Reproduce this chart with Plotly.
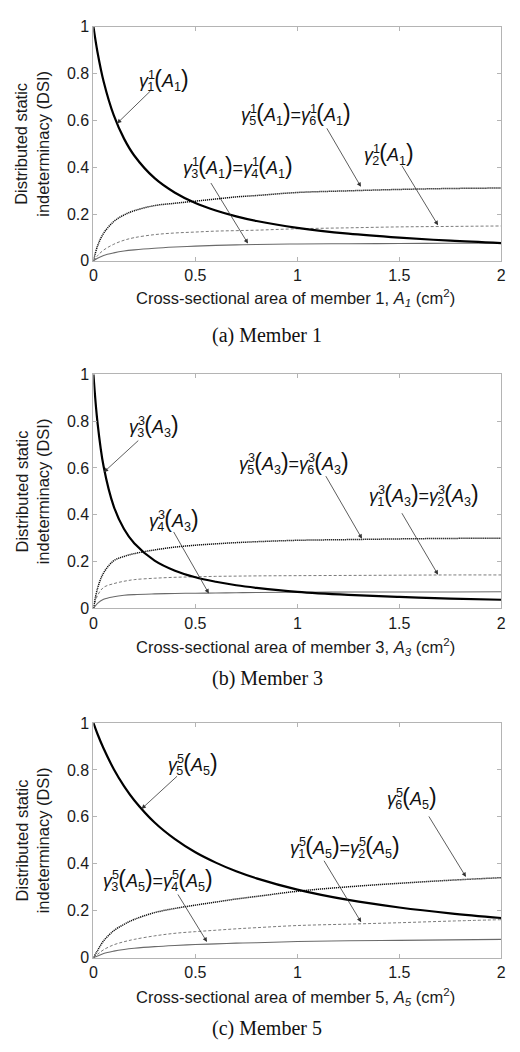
import plotly.graph_objects as go

# ---------------- data ----------------
A_grid = [0, 0.02, 0.05, 0.1, 0.15, 0.2, 0.3, 0.4, 0.5, 0.6, 0.7, 0.8, 1.0, 1.25, 1.5, 1.75, 2.0]

# (a) Member 1
m1_thick = [1.0, 0.891, 0.766, 0.621, 0.522, 0.450, 0.353, 0.291, 0.247, 0.215, 0.190, 0.170, 0.141, 0.116, 0.099, 0.086, 0.076]
m1_dot = [0, 0.063, 0.118, 0.168, 0.196, 0.214, 0.236, 0.246, 0.255, 0.264, 0.273, 0.279, 0.292, 0.299, 0.305, 0.309, 0.311]
m1_dash = [0, 0.022, 0.046, 0.071, 0.088, 0.099, 0.112, 0.119, 0.123, 0.127, 0.129, 0.131, 0.137, 0.141, 0.145, 0.147, 0.149]
m1_thin = [0, 0.011, 0.023, 0.034, 0.042, 0.047, 0.054, 0.059, 0.063, 0.066, 0.068, 0.070, 0.072, 0.073, 0.074, 0.075, 0.075]

# (b) Member 3
m3_thick = [1.0, 0.794, 0.606, 0.435, 0.339, 0.278, 0.204, 0.161, 0.133, 0.114, 0.099, 0.088, 0.071, 0.058, 0.049, 0.042, 0.037]
m3_dot = [0, 0.085, 0.152, 0.204, 0.222, 0.234, 0.250, 0.262, 0.270, 0.276, 0.281, 0.285, 0.291, 0.294, 0.297, 0.299, 0.300]
m3_dash = [0, 0.055, 0.090, 0.106, 0.116, 0.123, 0.129, 0.133, 0.135, 0.137, 0.138, 0.139, 0.140, 0.141, 0.142, 0.143, 0.143]
m3_thin = [0, 0.022, 0.039, 0.050, 0.056, 0.059, 0.062, 0.064, 0.065, 0.066, 0.067, 0.068, 0.069, 0.070, 0.070, 0.070, 0.071]

# (c) Member 5
m5_thick = [1.0, 0.953, 0.891, 0.803, 0.731, 0.671, 0.576, 0.505, 0.449, 0.405, 0.368, 0.338, 0.290, 0.246, 0.214, 0.189, 0.169]
m5_dot = [0, 0.030, 0.072, 0.115, 0.142, 0.163, 0.192, 0.210, 0.224, 0.237, 0.250, 0.261, 0.283, 0.302, 0.317, 0.330, 0.341]
m5_dash = [0, 0.014, 0.034, 0.055, 0.068, 0.078, 0.093, 0.104, 0.111, 0.117, 0.123, 0.128, 0.137, 0.143, 0.149, 0.156, 0.162]
m5_thin = [0, 0.007, 0.018, 0.028, 0.035, 0.040, 0.047, 0.052, 0.056, 0.059, 0.062, 0.064, 0.069, 0.072, 0.074, 0.076, 0.078]

x_ticks = [0, 0.5, 1, 1.5, 2]
x_tick_labels = ["0", "0.5", "1", "1.5", "2"]
y_ticks = [0, 0.2, 0.4, 0.6, 0.8, 1]
y_tick_labels = ["0", "0.2", "0.4", "0.6", "0.8", "1"]

captions = ["(a) Member 1", "(b) Member 3", "(c) Member 5"]
members = ["1", "3", "5"]

PAREN_L = "<span style='font-size:23px'>(</span>"
PAREN_R = "<span style='font-size:23px'>)</span>"


def g(i, m):
    return ("<i>γ</i><sup><span style='letter-spacing:-0.62em'>%s</span></sup>"
            "<sub>%s</sub>%s<i>A</i><sub>%s</sub>%s" % (m, i, PAREN_L, m, PAREN_R))


# labels: (text, x, y, head_x, head_y, ax, ay)
labels = [
    [
        (g("1", "1"), 0.347, 0.773, 0.116, 0.587, 35, -34),
        (g("5", "1") + "=" + g("6", "1"), 0.993, 0.626, 1.312, 0.316, -35, -60),
        (g("2", "1"), 1.451, 0.458, 1.69, 0.152, -37, -61),
        (g("3", "1") + "=" + g("4", "1"), 0.708, 0.399, 0.758, 0.074, -38, -62),
    ],
    [
        (g("3", "3"), 0.299, 0.779, 0.051, 0.582, 36, -33),
        (g("5", "3") + "=" + g("6", "3"), 0.983, 0.619, 1.317, 0.298, -37, -64),
        (g("1", "3") + "=" + g("2", "3"), 1.619, 0.484, 1.69, 0.144, -37, -63),
        (g("4", "3"), 0.395, 0.379, 0.566, 0.064, -36, -63),
    ],
    [
        (g("5", "5"), 0.487, 0.827, 0.236, 0.634, 37, -34),
        (g("6", "5"), 1.561, 0.681, 1.827, 0.344, -38, -62),
        (g("1", "5") + "=" + g("2", "5"), 1.234, 0.471, 1.313, 0.151, -38, -63),
        (g("3", "5") + "=" + g("4", "5"), 0.318, 0.329, 0.557, 0.067, -30, -49),
    ],
]

series = [
    (m1_thick, m1_dot, m1_dash, m1_thin),
    (m3_thick, m3_dot, m3_dash, m3_thin),
    (m5_thick, m5_dot, m5_dash, m5_thin),
]

# ---------------- layout geometry ----------------
W, H = 520, 1052
plot_left, plot_right = 91, 506
plot_tb = [(19, 257), (372.3, 610.3), (726.7, 965.3)]
title_y = [295, 650, 1005]
caption_y = [333, 682, 1037]

fig = go.Figure()
annotations = []
axis_color = "#b4b4b4"
for k in range(3):
    xa = "x" if k == 0 else "x%d" % (k + 1)
    ya = "y" if k == 0 else "y%d" % (k + 1)
    thick, dot, dash, thin = series[k]
    common = dict(x=A_grid, xaxis=xa, yaxis=ya, mode="lines", showlegend=False,
                  hoverinfo="skip", line_shape="spline")
    fig.add_trace(go.Scatter(y=thin, line=dict(color="#6a6a6a", width=1.1), **common))
    fig.add_trace(go.Scatter(y=dash, line=dict(color="#7a7a7a", width=1.0, dash="3px,2px"), **common))
    fig.add_trace(go.Scatter(y=dot, line=dict(color="#111111", width=1.5, dash="1.2px,0.8px"), **common))
    fig.add_trace(go.Scatter(y=thick, line=dict(color="#000000", width=2.2), **common))

    top, bot = plot_tb[k]
    dom_y = [1 - bot / H, 1 - top / H]
    axkey_x = "xaxis" if k == 0 else "xaxis%d" % (k + 1)
    axkey_y = "yaxis" if k == 0 else "yaxis%d" % (k + 1)
    fig.update_layout(**{
        axkey_x: dict(domain=[plot_left / W, plot_right / W], range=[0, 2], anchor=ya,
                      tickvals=x_ticks, ticktext=x_tick_labels, ticks="inside", ticklen=4,
                      tickcolor=axis_color, showline=True, linecolor=axis_color, linewidth=1,
                      mirror="ticks", showgrid=False, zeroline=False,
                      tickfont=dict(family="Liberation Sans, Arial", size=16, color="#1a1a1a")),
        axkey_y: dict(domain=dom_y, range=[0, 1], anchor=xa,
                      tickvals=y_ticks, ticktext=y_tick_labels, ticks="inside", ticklen=4,
                      tickcolor=axis_color, showline=True, linecolor=axis_color, linewidth=1,
                      mirror="ticks", showgrid=False, zeroline=False,
                      tickfont=dict(family="Liberation Sans, Arial", size=16, color="#1a1a1a")),
    })

    annotations.append(dict(
        text="Cross-sectional area of member %s, <i>A</i><sub><i>%s</i></sub> (cm<sup>2</sup>)" % (members[k], members[k]),
        xref="paper", yref="paper", x=297 / W, y=1 - title_y[k] / H,
        xanchor="center", yanchor="middle", showarrow=False,
        font=dict(family="Liberation Sans, Arial", size=16.5, color="#1a1a1a")))
    annotations.append(dict(
        text="Distributed static<br>indeterminacy (DSI)",
        xref="paper", yref="paper", x=28.5 / W, y=1 - (top + bot) / 2 / H,
        xanchor="center", yanchor="middle", showarrow=False, textangle=-90,
        font=dict(family="Liberation Sans, Arial", size=16.5, color="#1a1a1a")))
    annotations.append(dict(
        text=captions[k], xref="paper", yref="paper", x=268 / W, y=1 - caption_y[k] / H,
        xanchor="center", yanchor="middle", showarrow=False,
        font=dict(family="Liberation Serif, Times New Roman", size=20, color="#111111")))

    for (txt, tx, ty, hx, hy, ax, ay) in labels[k]:
        annotations.append(dict(text=txt, x=tx, y=ty, xref=xa, yref=ya, showarrow=False,
                                xanchor="center", yanchor="middle",
                                font=dict(family="Liberation Sans, Arial", size=18, color="#111111")))
        annotations.append(dict(text="", x=hx, y=hy, xref=xa, yref=ya, showarrow=True,
                                ax=ax, ay=ay, axref="pixel", ayref="pixel",
                                arrowhead=2, arrowsize=1.1, arrowwidth=0.8, arrowcolor="#333333"))

fig.update_layout(width=W, height=H, margin=dict(l=0, r=0, t=0, b=0),
                  paper_bgcolor="white", plot_bgcolor="white", annotations=annotations)

fig.write_html("out.html")
